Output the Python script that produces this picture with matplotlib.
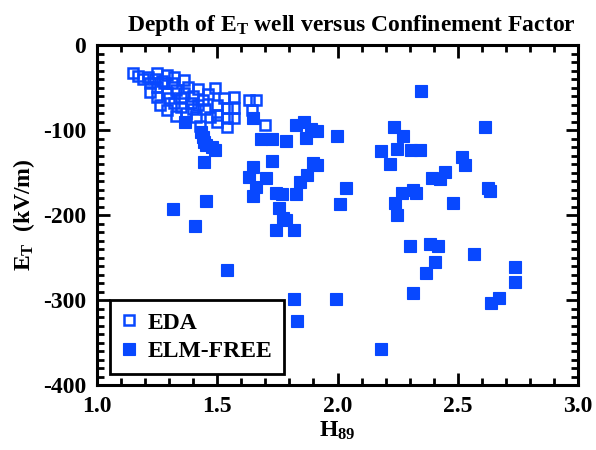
import matplotlib
matplotlib.use("Agg")
import matplotlib.pyplot as plt
from matplotlib.ticker import MultipleLocator, FormatStrFormatter

# ---- data ----
eda_x = [1.15, 1.17, 1.19, 1.21, 1.22, 1.25, 1.25, 1.27, 1.28, 1.29, 1.32, 1.33,
         1.36, 1.38, 1.25, 1.29, 1.36, 1.26, 1.29, 1.32, 1.35, 1.39, 1.30, 1.37,
         1.40, 1.42, 1.44, 1.45, 1.47, 1.49, 1.50, 1.50, 1.50, 1.53, 1.57, 1.63,
         1.66, 1.645, 1.54, 1.57, 1.54, 1.57, 1.54, 1.70, 1.33, 1.41, 1.43, 1.40,
         1.22, 1.31, 1.24, 1.46, 1.35, 1.42]
eda_y = [-33, -36, -40, -38, -45, -33, -49, -42, -45, -35, -38, -53,
         -41, -49, -61, -56, -56, -71, -76, -68, -73, -68, -62, -80,
         -60, -52, -65, -75, -85, -50, -71, -82, -91, -62, -61, -65,
         -65, -76, -74, -74, -86, -86, -96, -94, -83, -85, -95, -75,
         -55, -45, -40, -58, -62, -70]

elm_x = [1.364, 1.434, 1.44, 1.446, 1.455, 1.48, 1.49, 1.446, 1.455, 1.314,
         1.409, 1.541, 1.649, 1.682, 1.727, 1.785, 1.826, 1.86, 1.888, 1.913,
         1.87, 1.727, 1.649, 1.632, 1.702, 1.661, 1.649, 1.897, 1.913, 1.872,
         1.843, 1.744, 1.769, 1.826, 1.756, 1.773, 1.785, 1.744, 1.818, 2.347,
         1.996, 2.236, 2.273, 2.182, 2.248, 2.306, 2.343, 2.219, 2.037, 2.012,
         2.269, 2.314, 2.326, 2.24, 2.393, 2.426, 2.446, 2.479, 2.612, 2.517,
         2.529, 2.624, 2.636, 2.248, 2.302, 2.384, 2.417, 2.566, 2.405, 2.368,
         2.314, 1.818, 1.992, 1.831, 2.182, 2.74, 2.74, 2.67, 2.64]
elm_y = [-91, -102, -108, -114, -118, -120, -124, -138, -184, -193,
         -213, -265, -86, -111, -111, -113, -94, -90, -99, -101,
         -109, -136, -143, -155, -157, -167, -178, -139, -141, -153,
         -161, -174, -175, -175, -192, -204, -206, -218, -218, -54,
         -107, -97, -107, -125, -122, -124, -124, -140, -168, -187,
         -174, -171, -174, -186, -157, -158, -149, -186, -96, -132,
         -141, -168, -172, -200, -236, -234, -237, -246, -255, -268,
         -292, -299, -299, -325, -358, -261, -279, -298, -304]

labels = ["EDA", "ELM-FREE"]
title = r"Depth of E$_\mathregular{T}$ well versus Confinement Factor"
xlabel = r"H$_\mathregular{89}$"
ylabel = r"E$_\mathregular{T}$  (kV/m)"

BLUE = "#0848ff"
FS = 17

plt.rcParams["font.family"] = ["Liberation Serif", "DejaVu Serif"]
plt.rcParams["font.weight"] = "bold"
plt.rcParams["axes.unicode_minus"] = False
plt.rcParams["mathtext.fontset"] = "custom"
plt.rcParams["mathtext.rm"] = "Liberation Serif:bold"
plt.rcParams["mathtext.it"] = "Liberation Serif:bold"
plt.rcParams["mathtext.bf"] = "Liberation Serif:bold"

fig = plt.figure(figsize=(5.96, 4.5), dpi=100)
ax = fig.add_axes([0.1628, 0.1444, 0.807, 0.7556])

ax.plot(eda_x, eda_y, linestyle="none", marker="s", ms=7.5, mfc="none",
        mec=BLUE, mew=1.8, label=labels[0])
ax.plot(elm_x, elm_y, linestyle="none", marker="s", ms=8, mfc=BLUE,
        mec=BLUE, mew=0.8, label=labels[1])

ax.set_xlim(1.0, 3.0)
ax.set_ylim(-400, 0)
ax.xaxis.set_major_locator(MultipleLocator(0.5))
ax.xaxis.set_minor_locator(MultipleLocator(0.1))
ax.yaxis.set_major_locator(MultipleLocator(100))
ax.yaxis.set_minor_locator(MultipleLocator(10))
ax.xaxis.set_major_formatter(FormatStrFormatter("%.1f"))
ax.yaxis.set_major_formatter(FormatStrFormatter("%d"))

ax.tick_params(which="both", direction="in", top=True, right=True, width=2,
               labelsize=FS)
ax.tick_params(which="major", length=9, pad=8)
ax.tick_params(which="minor", length=5)
for s in ax.spines.values():
    s.set_linewidth(2.2)

ax.set_title(title, fontsize=FS, fontweight="bold", pad=10, x=0.53)
ax.set_xlabel(xlabel, fontsize=FS, fontweight="bold", labelpad=2)
ax.set_ylabel(ylabel, fontsize=FS, fontweight="bold", labelpad=4)

leg = ax.legend(loc="lower left", bbox_to_anchor=(0.027, 0.032), fontsize=FS,
                frameon=True, fancybox=False, edgecolor="black",
                handlelength=0.6, handletextpad=0.5, borderpad=0.5,
                labelspacing=0.3, borderaxespad=0)
leg.get_frame().set_linewidth(2)
leg.get_frame().set_alpha(1)

fig.savefig("out.png", dpi=100)
